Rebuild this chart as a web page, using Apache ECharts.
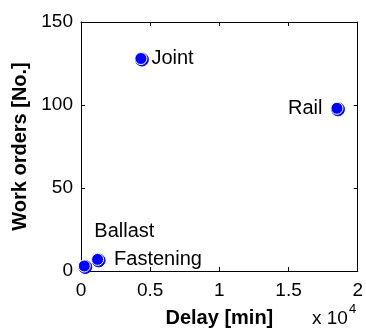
<!DOCTYPE html>
<html><head><meta charset="utf-8">
<script src="https://cdn.jsdelivr.net/npm/echarts@6/dist/echarts.min.js"></script>
<style>html,body{margin:0;padding:0;background:#fff}#c{width:366px;height:333px}</style>
</head><body><div id="c"></div>
<script>
var names = ['Ballast', 'Fastening', 'Joint', 'Rail'];
var delays = [240, 1200, 4330, 18500];
var workOrders = [3, 7, 128, 98];
var xTicks = [0, 0.5, 1, 1.5, 2];
var yTicks = [0, 50, 100, 150];

var FONT = '"Liberation Sans", Arial, sans-serif';
var labelCfg = {
  Ballast: { position: 'inside', offset: [40, -35] },
  Fastening: { position: 'right', distance: 10 },
  Joint: { position: 'right', distance: 4 },
  Rail: { position: 'left', distance: 8 }
};
var pts = names.map(function (n, i) { return [delays[i], workOrders[i]]; });

var chart = echarts.init(document.getElementById('c'), null, { renderer: 'canvas' });
var axisCommon = {
  axisLine: { show: true, onZero: false, lineStyle: { color: '#000', width: 1 } },
  axisTick: { show: true, inside: true, length: 4, lineStyle: { color: '#000' } },
  splitLine: { show: false }
};
chart.setOption({
  animation: false,
  grid: { left: 81, top: 22, width: 277, height: 251, containLabel: false },
  xAxis: [
    Object.assign({}, axisCommon, {
      type: 'value', min: 0, max: 20000, interval: 5000, position: 'bottom',
      axisLabel: { color: '#000', fontFamily: FONT, fontSize: 19, margin: 10,
        formatter: function (v) { return String(xTicks[Math.round(v / 5000)]); } },
      name: 'Delay [min]', nameLocation: 'middle', nameGap: 37,
      nameTextStyle: { color: '#000', fontFamily: FONT, fontSize: 20, fontWeight: 'bold' }
    }),
    Object.assign({}, axisCommon, {
      type: 'value', min: 0, max: 20000, interval: 5000, position: 'top',
      axisLabel: { show: false }
    })
  ],
  yAxis: [
    Object.assign({}, axisCommon, {
      type: 'value', min: 0, max: 150, interval: 50, position: 'left',
      axisLabel: { color: '#000', fontFamily: FONT, fontSize: 19, margin: 8,
        formatter: function (v) { return String(yTicks[Math.round(v / 50)]); } },
      name: 'Work orders [No.]', nameLocation: 'middle', nameGap: 50, nameRotate: 90,
      nameTextStyle: { color: '#000', fontFamily: FONT, fontSize: 20, fontWeight: 'bold' }
    }),
    Object.assign({}, axisCommon, {
      type: 'value', min: 0, max: 150, interval: 50, position: 'right',
      axisLabel: { show: false }
    })
  ],
  series: [
    {
      type: 'scatter', symbol: 'circle', symbolSize: 13, symbolOffset: [1, 1],
      itemStyle: { color: '#0000ff', borderColor: '#0000ff', borderWidth: 1, opacity: 1 },
      data: pts, silent: true, z: 2
    },
    {
      type: 'scatter', symbol: 'circle', symbolSize: 12,
      itemStyle: { color: '#0000ff', borderColor: '#ffffff', borderWidth: 1, opacity: 1 },
      data: pts.map(function (p, i) {
        var c = labelCfg[names[i]];
        return {
          value: p,
          label: Object.assign({ show: true, formatter: names[i], color: '#000', opacity: 1,
            textBorderWidth: 0, fontFamily: FONT, fontSize: 20 }, c)
        };
      }),
      z: 3
    }
  ],
  graphic: [
    { type: 'text', left: 312, top: 309,
      style: { text: 'x 10', fontFamily: FONT, fontSize: 19, fill: '#000' } },
    { type: 'text', left: 349, top: 303,
      style: { text: '4', fontFamily: FONT, fontSize: 13, fill: '#000' } }
  ]
});
</script></body></html>
